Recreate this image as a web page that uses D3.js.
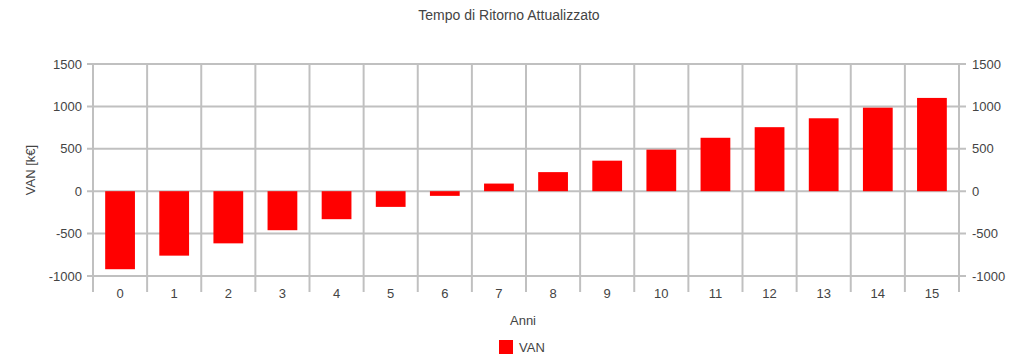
<!DOCTYPE html>
<html><head><meta charset="utf-8">
<script src="https://cdn.jsdelivr.net/npm/d3@7"></script>
<style>html,body{margin:0;padding:0;background:#fff;}svg{display:block;font-family:"Liberation Sans",Arial,sans-serif;}</style>
</head><body><svg id="c" width="1020" height="358"></svg>
<script>
const years = ["0","1","2","3","4","5","6","7","8","9","10","11","12","13","14","15"];
const van = [-920,-760,-615,-460,-330,-185,-55,90,225,360,490,630,755,860,985,1100];
const yTicks = [-1000,-500,0,500,1000,1500];
const title = "Tempo di Ritorno Attualizzato";
const yLabel = "VAN [k€]";
const xLabel = "Anni";
const legendLabel = "VAN";

const svg = d3.select("#c");
const L = 93, R = 959, T = 64, B = 276;
const x = d3.scaleBand().domain(years).range([L, R]).paddingInner(0.45).paddingOuter(0.225);
const y = d3.scaleLinear().domain([-1000, 1500]).range([B, T]);
const grid = "#c0c0c0", txt = "#444";

const bounds = d3.range(years.length + 1).map(i => L + i * (R - L) / years.length);
svg.append("g").selectAll("line").data(bounds).join("line")
  .attr("x1", d => d).attr("x2", d => d).attr("y1", T).attr("y2", 292)
  .attr("stroke", grid).attr("stroke-width", 2);
svg.append("g").selectAll("line").data(yTicks).join("line")
  .attr("x1", 87).attr("x2", 966).attr("y1", d => y(d)).attr("y2", d => y(d))
  .attr("stroke", grid).attr("stroke-width", 2);

svg.append("g").selectAll("rect").data(van).join("rect")
  .attr("x", (d, i) => x(years[i]))
  .attr("width", x.bandwidth())
  .attr("y", d => Math.min(y(d), y(0)))
  .attr("height", d => Math.abs(y(d) - y(0)))
  .attr("fill", "#ff0000");

const lab = svg.append("g").attr("font-size", 13).attr("fill", txt);
lab.selectAll(".yl").data(yTicks).join("text").attr("class", "yl")
  .attr("x", 82).attr("y", d => y(d)).attr("dy", "0.35em").attr("text-anchor", "end").text(d => d);
lab.selectAll(".yr").data(yTicks).join("text").attr("class", "yr")
  .attr("x", 972).attr("y", d => y(d)).attr("dy", "0.35em").attr("text-anchor", "start").text(d => d);
lab.selectAll(".xl").data(years).join("text").attr("class", "xl")
  .attr("x", d => x(d) + x.bandwidth() / 2).attr("y", 293).attr("dy", "0.35em")
  .attr("text-anchor", "middle").text(d => d);

svg.append("text").attr("x", 509).attr("y", 15).attr("dy", "0.35em").attr("text-anchor", "middle")
  .attr("font-size", 14).attr("fill", txt).text(title);
svg.append("text").attr("transform", "translate(30,170) rotate(-90)").attr("dy", "0.35em")
  .attr("text-anchor", "middle").attr("font-size", 13).attr("fill", txt).text(yLabel);
svg.append("text").attr("x", 523).attr("y", 320).attr("dy", "0.35em").attr("text-anchor", "middle")
  .attr("font-size", 13).attr("fill", txt).text(xLabel);

svg.append("rect").attr("x", 499).attr("y", 340).attr("width", 14).attr("height", 14).attr("fill", "#ff0000");
svg.append("text").attr("x", 519).attr("y", 347).attr("dy", "0.35em").attr("font-size", 13).attr("fill", txt).text(legendLabel);
</script></body></html>
